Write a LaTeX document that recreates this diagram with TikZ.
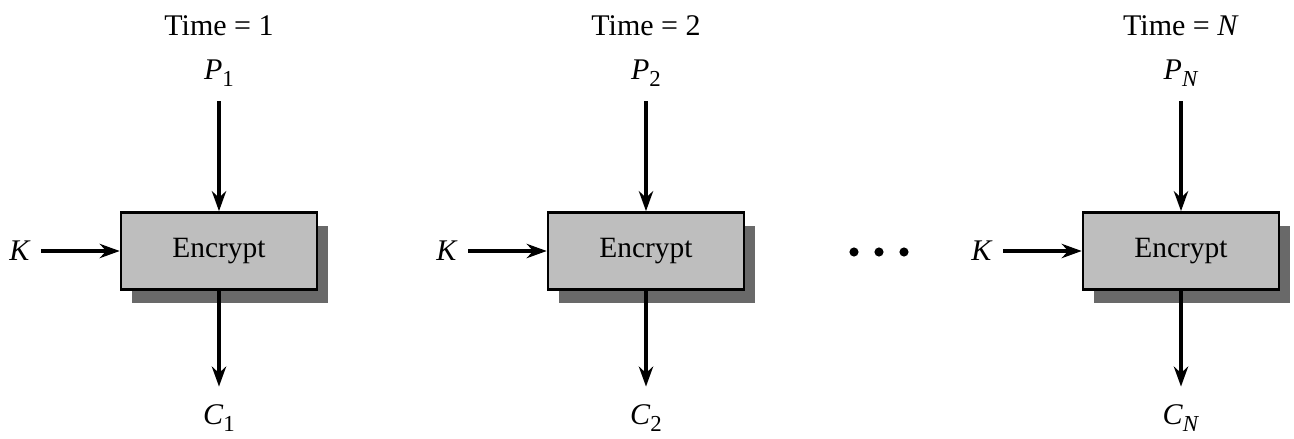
\documentclass[tikz,border=0pt]{standalone}
\usepackage{fontspec}
\setmainfont{Liberation Serif}
\usetikzlibrary{arrows.meta,shadows}
\definecolor{boxgray}{RGB}{190,190,190}
\definecolor{shadowgray}{RGB}{105,105,105}
\newcommand{\vsub}[2]{\textit{#1}\raisebox{-0.55ex}{\footnotesize #2}}
\tikzset{
  encbox/.style={draw=black, line width=0.9pt, fill=boxgray, minimum width=68.6pt, minimum height=27pt, inner sep=0pt, font=\fontsize{10.3}{12}\selectfont,
    drop shadow={shadow xshift=3.9pt, shadow yshift=-4.6pt, fill=shadowgray, opacity=1}},
  lbl/.style={inner sep=0pt, font=\fontsize{10.5}{12}\selectfont},
  flow/.style={line width=1.2pt, -{Stealth[length=7pt,width=5pt]}},
}
\begin{document}
\begin{tikzpicture}[x=0.35pt,y=-0.35pt]
\useasboundingbox (0,0) rectangle (1294,439);
\foreach \i/\cx/\kx/\t/\s in {1/219/20/1/1, 2/646/447/2/2, 3/1181/982/\textit{N}/\textit{N}}{
  \node[encbox] (b\i) at (\cx,251) {Encrypt};
  \node[lbl] (t\i) at (\cx,26) {Time = \t};
  \node[lbl] (p\i) at (\cx,73) {\vsub{P}{\s}};
  \node[lbl] (c\i) at (\cx,418) {\vsub{C}{\s}};
  \node[lbl] (k\i) at (\kx,251) {\textit{K}};
  \draw[flow, shorten <=5pt] (p\i.south) -- (b\i.north);
  \draw[flow, shorten >=6pt] (b\i.south) -- (c\i.north);
  \draw[flow, shorten <=3.5pt] (k\i.east) -- (b\i.west);
}
\foreach \j/\dx in {1/854,2/879,3/904}{
  \fill (\dx,252) circle (1.6pt) coordinate (d\j);
}
\end{tikzpicture}
\end{document}
